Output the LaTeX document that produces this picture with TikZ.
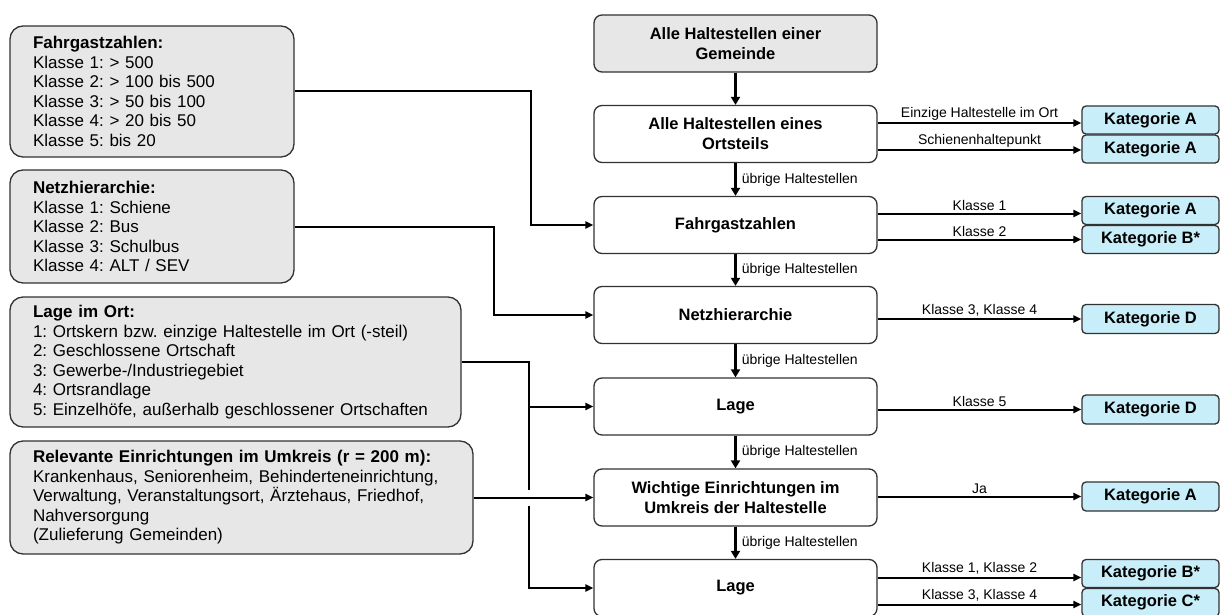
\documentclass[tikz,border=0pt]{standalone}
\usepackage{fontspec}
\setmainfont{Liberation Sans}
\usetikzlibrary{arrows.meta}
\definecolor{boxgray}{RGB}{231,231,231}
\definecolor{katblue}{RGB}{200,238,249}
\definecolor{edgecol}{RGB}{50,50,50}
\frenchspacing
\begin{document}
\begin{tikzpicture}[x=1pt,y=-1pt,
 leftbox/.style={draw=edgecol, line width=1.3pt, fill=boxgray, rounded corners=13pt, align=left, inner xsep=23pt, inner ysep=0pt, font=\fontsize{17}{19.5}\selectfont},
 mainbox/.style={draw=edgecol, line width=1.3pt, fill=white, rounded corners=8pt, minimum width=283pt, minimum height=57pt, align=center, inner sep=0pt, font=\bfseries\fontsize{16.5}{20}\selectfont},
 katbox/.style={draw=edgecol, line width=1.3pt, fill=katblue, rounded corners=4pt, minimum width=137pt, inner sep=0pt, font=\bfseries\fontsize{16.5}{20}\selectfont},
 arr/.style={line width=2pt, -{Triangle[length=8pt,width=7pt]}},
 varr/.style={line width=2.6pt, -{Triangle[length=8pt,width=9pt]}},
 conn/.style={line width=2pt},
 lbl/.style={font=\fontsize{14}{16}\selectfont, inner sep=2pt},
 side/.style={font=\fontsize{14}{16}\selectfont, inner sep=5pt, right},
]
\fill[white] (0,0) rectangle (1220,615);
\useasboundingbox (0,0) rectangle (1220,615);

% left boxes
\node[leftbox, text width=238pt, minimum height=131pt] (l1) at (152,91.5)
 {\textbf{Fahrgastzahlen:}\\Klasse 1: > 500\\Klasse 2: > 100 bis 500\\Klasse 3: > 50 bis 100\\Klasse 4: > 20 bis 50\\Klasse 5: bis 20};
\node[leftbox, text width=238pt, minimum height=113pt] (l2) at (152,226.5)
 {\textbf{Netzhierarchie:}\\Klasse 1: Schiene\\Klasse 2: Bus\\Klasse 3: Schulbus\\Klasse 4: ALT / SEV};
\node[leftbox, text width=405pt, minimum height=130pt] (l3) at (235.5,362)
 {\textbf{Lage im Ort:}\\1: Ortskern bzw. einzige Haltestelle im Ort (-steil)\\2: Geschlossene Ortschaft\\3: Gewerbe-/Industriegebiet\\4: Ortsrandlage\\5: Einzelhöfe, außerhalb geschlossener Ortschaften};
\node[leftbox, text width=417pt, minimum height=113pt] (l4) at (241.5,497.5)
 {\textbf{Relevante Einrichtungen im Umkreis (r = 200 m):}\\Krankenhaus, Seniorenheim, Behinderteneinrichtung,\\Verwaltung, Veranstaltungsort, Ärztehaus, Friedhof,\\Nahversorgung\\(Zulieferung Gemeinden)};

% main column
\node[mainbox, fill=boxgray] (m1) at (735.5,43.5) {Alle Haltestellen einer\\Gemeinde};
\node[mainbox] (m2) at (735.5,134) {Alle Haltestellen eines\\Ortsteils};
\node[mainbox] (m3) at (735.5,225) {Fahrgastzahlen};
\node[mainbox] (m4) at (735.5,315) {Netzhierarchie};
\node[mainbox] (m5) at (735.5,406.5) {Lage};
\node[mainbox] (m6) at (735.5,497.5) {Wichtige Einrichtungen im\\Umkreis der Haltestelle};
\node[mainbox] (m7) at (735.5,588) {Lage};

% categories
\node[katbox, minimum height=28pt] (k2a) at (1150.5,120) {Kategorie A};
\node[katbox, minimum height=28pt] (k2b) at (1150.5,149) {Kategorie A};
\node[katbox, minimum height=28pt] (k3a) at (1150.5,210.5) {Kategorie A};
\node[katbox, minimum height=28pt] (k3b) at (1150.5,239.5) {Kategorie B*};
\node[katbox, minimum height=29pt] (k4) at (1150.5,319) {Kategorie D};
\node[katbox, minimum height=29pt] (k5) at (1150.5,409.5) {Kategorie D};
\node[katbox, minimum height=29pt] (k6) at (1150.5,496.5) {Kategorie A};
\node[katbox, minimum height=28pt] (k7a) at (1150.5,573.5) {Kategorie B*};
\node[katbox, minimum height=28pt] (k7b) at (1150.5,602.5) {Kategorie C*};

% vertical flow
\draw[varr] (m1) -- (m2);
\draw[varr] (m2) -- (m3) node[side, midway] {übrige Haltestellen};
\draw[varr] (m3) -- (m4) node[side, midway] {übrige Haltestellen};
\draw[varr] (m4) -- (m5) node[side, midway] {übrige Haltestellen};
\draw[varr] (m5) -- (m6) node[side, midway] {übrige Haltestellen};
\draw[varr] (m6) -- (m7) node[side, midway] {übrige Haltestellen};

% arrows to categories
\draw[arr] ([yshift=-3pt]k2a.west -| m2.east) -- ([yshift=-3pt]k2a.west) node[lbl, midway, above] {Einzige Haltestelle im Ort};
\draw[arr] ([yshift=-1pt]k2b.west -| m2.east) -- ([yshift=-1pt]k2b.west) node[lbl, midway, above] {Schienenhaltepunkt};
\draw[arr] ([yshift=-3pt]k3a.west -| m3.east) -- ([yshift=-3pt]k3a.west) node[lbl, midway, above] {Klasse 1};
\draw[arr] (k3b.west -| m3.east) -- (k3b.west) node[lbl, midway, above] {Klasse 2};
\draw[arr] (k4.west -| m4.east) -- (k4.west) node[lbl, midway, above] {Klasse 3, Klasse 4};
\draw[arr] (k5.west -| m5.east) -- (k5.west) node[lbl, midway, above] {Klasse 5};
\draw[arr] (k6.west -| m6.east) -- (k6.west) node[lbl, midway, above] {Ja};
\draw[arr] ([yshift=-4pt]k7a.west -| m7.east) -- ([yshift=-4pt]k7a.west) node[lbl, midway, above] {Klasse 1, Klasse 2};
\draw[arr] ([yshift=-2pt]k7b.west -| m7.east) -- ([yshift=-2pt]k7b.west) node[lbl, midway, above] {Klasse 3, Klasse 4};

% inputs from left boxes
\draw[arr] (l1.east) -- ++(236,0) |- (m3.west);
\draw[arr] (l2.east) -- ++(199,0) |- (m4.west);
\draw[arr] (l3.east) -- ++(67,0) coordinate (j3) |- (m5.west);
\draw[conn] (j3 |- m5.west) -- ([yshift=8pt]j3 |- l4.east);
\draw[arr] ([yshift=-8pt]j3 |- l4.east) |- (m7.west);
\draw[arr] (l4.east) -- (m6.west);
\end{tikzpicture}
\end{document}
